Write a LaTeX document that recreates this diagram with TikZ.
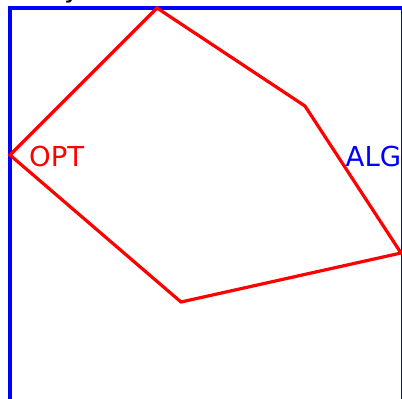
\documentclass[tikz,border=0pt]{standalone}
\usepackage{fontspec}
\setmainfont{DejaVu Sans}
\begin{document}
\begin{tikzpicture}[x=1pt,y=-1pt,
  frame/.style={draw=blue,line width=3.2pt},
  poly/.style={draw=red,line width=3.2pt},
  lbl/.style={inner sep=0pt,anchor=base west,font=\fontsize{27.5}{31}\selectfont}]
\useasboundingbox (0,0) rectangle (402,399);
\begin{scope}
\clip (0,0) rectangle (402,399);
\draw[frame] (10,420) -- (10,8) -- (402.3,8) -- (402.3,420);
\node[inner sep=0pt,anchor=base west,font=\fontsize{27}{30}\selectfont] (ttl) at (64,-3) {y};
\end{scope}
\coordinate (a) at (157,8);
\coordinate (b) at (305,106);
\coordinate (c) at (401,253);
\coordinate (d) at (181,302);
\coordinate (e) at (10,155);
\draw[poly] (a) -- (b) -- (c) -- (d) -- (e) -- cycle;
\node[lbl,text=red] (opt) at (29,166) {OPT};
\node[lbl,text=blue] (alg) at (345.5,166) {ALG};
\end{tikzpicture}
\end{document}
